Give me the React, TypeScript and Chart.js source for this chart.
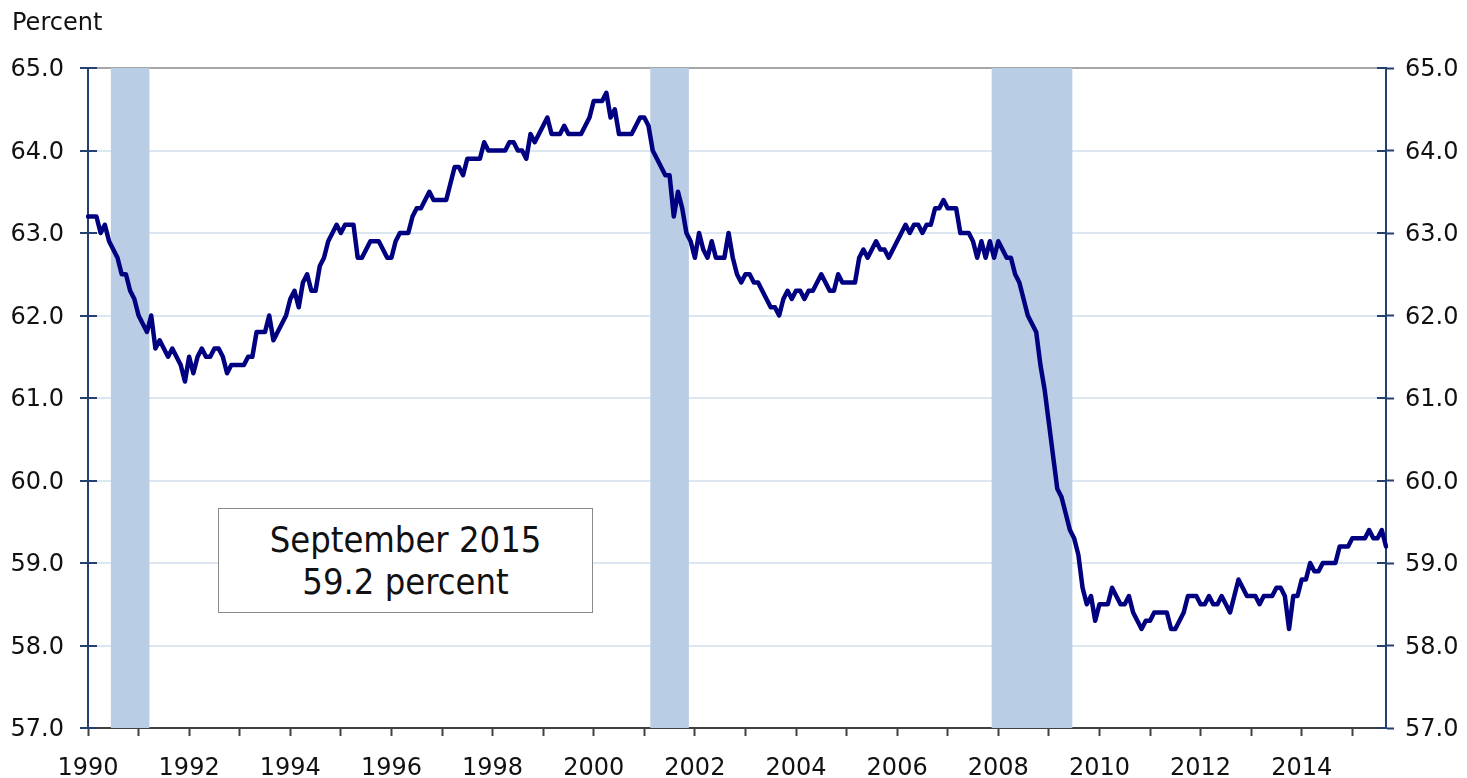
import React, { useEffect, useRef } from "react";
import { Chart, registerables } from "chart.js";

Chart.register(...registerables);

// ---- Data ---------------------------------------------------------------
const firstYear = 1990;

// Employment-population ratio, seasonally adjusted, monthly Jan 1990 – Sep 2015
const employmentRatio: number[] = [
  63.2, 63.2, 63.2, 63.0, 63.1, 62.9, 62.8, 62.7, 62.5, 62.5, 62.3, 62.2, // 1990
  62.0, 61.9, 61.8, 62.0, 61.6, 61.7, 61.6, 61.5, 61.6, 61.5, 61.4, 61.2, // 1991
  61.5, 61.3, 61.5, 61.6, 61.5, 61.5, 61.6, 61.6, 61.5, 61.3, 61.4, 61.4, // 1992
  61.4, 61.4, 61.5, 61.5, 61.8, 61.8, 61.8, 62.0, 61.7, 61.8, 61.9, 62.0, // 1993
  62.2, 62.3, 62.1, 62.4, 62.5, 62.3, 62.3, 62.6, 62.7, 62.9, 63.0, 63.1, // 1994
  63.0, 63.1, 63.1, 63.1, 62.7, 62.7, 62.8, 62.9, 62.9, 62.9, 62.8, 62.7, // 1995
  62.7, 62.9, 63.0, 63.0, 63.0, 63.2, 63.3, 63.3, 63.4, 63.5, 63.4, 63.4, // 1996
  63.4, 63.4, 63.6, 63.8, 63.8, 63.7, 63.9, 63.9, 63.9, 63.9, 64.1, 64.0, // 1997
  64.0, 64.0, 64.0, 64.0, 64.1, 64.1, 64.0, 64.0, 63.9, 64.2, 64.1, 64.2, // 1998
  64.3, 64.4, 64.2, 64.2, 64.2, 64.3, 64.2, 64.2, 64.2, 64.2, 64.3, 64.4, // 1999
  64.6, 64.6, 64.6, 64.7, 64.4, 64.5, 64.2, 64.2, 64.2, 64.2, 64.3, 64.4, // 2000
  64.4, 64.3, 64.0, 63.9, 63.8, 63.7, 63.7, 63.2, 63.5, 63.3, 63.0, 62.9, // 2001
  62.7, 63.0, 62.8, 62.7, 62.9, 62.7, 62.7, 62.7, 63.0, 62.7, 62.5, 62.4, // 2002
  62.5, 62.5, 62.4, 62.4, 62.3, 62.2, 62.1, 62.1, 62.0, 62.2, 62.3, 62.2, // 2003
  62.3, 62.3, 62.2, 62.3, 62.3, 62.4, 62.5, 62.4, 62.3, 62.3, 62.5, 62.4, // 2004
  62.4, 62.4, 62.4, 62.7, 62.8, 62.7, 62.8, 62.9, 62.8, 62.8, 62.7, 62.8, // 2005
  62.9, 63.0, 63.1, 63.0, 63.1, 63.1, 63.0, 63.1, 63.1, 63.3, 63.3, 63.4, // 2006
  63.3, 63.3, 63.3, 63.0, 63.0, 63.0, 62.9, 62.7, 62.9, 62.7, 62.9, 62.7, // 2007
  62.9, 62.8, 62.7, 62.7, 62.5, 62.4, 62.2, 62.0, 61.9, 61.8, 61.4, 61.1, // 2008
  60.7, 60.3, 59.9, 59.8, 59.6, 59.4, 59.3, 59.1, 58.7, 58.5, 58.6, 58.3, // 2009
  58.5, 58.5, 58.5, 58.7, 58.6, 58.5, 58.5, 58.6, 58.4, 58.3, 58.2, 58.3, // 2010
  58.3, 58.4, 58.4, 58.4, 58.4, 58.2, 58.2, 58.3, 58.4, 58.6, 58.6, 58.6, // 2011
  58.5, 58.5, 58.6, 58.5, 58.5, 58.6, 58.5, 58.4, 58.6, 58.8, 58.7, 58.6, // 2012
  58.6, 58.6, 58.5, 58.6, 58.6, 58.6, 58.7, 58.7, 58.6, 58.2, 58.6, 58.6, // 2013
  58.8, 58.8, 59.0, 58.9, 58.9, 59.0, 59.0, 59.0, 59.0, 59.2, 59.2, 59.2, // 2014
  59.3, 59.3, 59.3, 59.3, 59.4, 59.3, 59.3, 59.4, 59.2,                   // 2015
];

// Recession periods (first month, last month)
const recessions: [string, string][] = [
  ["1990-07", "1991-03"],
  ["2001-03", "2001-11"],
  ["2007-12", "2009-06"],
];

const yMin = 57;
const yMax = 65;
const yStep = 1;
const yAxisTitle = "Percent";
const noteLines = ["September 2015", "59.2 percent"];

// ---- Derived tables -----------------------------------------------------
const monthLabels = employmentRatio.map(
  (_, i) => `${firstYear + Math.floor(i / 12)}-${String((i % 12) + 1).padStart(2, "0")}`
);
const recessionShade = monthLabels.map((m) =>
  recessions.some(([a, b]) => m >= a && m <= b) ? yMax : null
);

// ---- Styles -------------------------------------------------------------
const FONT = '"DejaVu Sans", Verdana, sans-serif';
const AXIS_BLUE = "#24406f";
const TEXT = "#111111";
const FS = 24;

const innerTicks = {
  id: "innerTicks",
  afterDatasetsDraw(chart: any) {
    const { ctx, chartArea } = chart;
    ctx.save();
    ctx.strokeStyle = AXIS_BLUE;
    ctx.lineWidth = 2;
    for (const id of ["y", "y2"]) {
      const s = chart.scales[id];
      const x0 = id === "y" ? chartArea.left : chartArea.right;
      const dir = id === "y" ? 1 : -1;
      s.ticks.forEach((t: any) => {
        const py = Math.round(s.getPixelForValue(t.value));
        ctx.beginPath();
        ctx.moveTo(x0, py);
        ctx.lineTo(x0 + dir * 9, py);
        ctx.stroke();
      });
    }
    ctx.restore();
  },
};

export default function App() {
  const ref = useRef<HTMLCanvasElement>(null);

  useEffect(() => {
    const chart = new Chart(ref.current as HTMLCanvasElement, {
      type: "line",
      data: {
        labels: monthLabels,
        datasets: [
          {
            type: "line",
            label: "Employment-population ratio",
            data: employmentRatio,
            borderColor: "#000080",
            borderWidth: 4.5,
            pointRadius: 0,
            tension: 0,
            borderJoinStyle: "round",
            borderCapStyle: "round",
            order: 1,
            yAxisID: "y",
          } as any,
          {
            type: "bar",
            label: "Recession",
            data: recessionShade,
            backgroundColor: "#b9cde5",
            borderWidth: 0,
            barPercentage: 1,
            categoryPercentage: 1,
            order: 2,
            yAxisID: "y",
          } as any,
        ],
      },
      options: {
        responsive: true,
        maintainAspectRatio: false,
        animation: false,
        layout: { padding: { left: 12, right: 0, top: 0, bottom: 0 } },
        plugins: {
          legend: { display: false },
          tooltip: { enabled: false },
          title: {
            display: true,
            text: yAxisTitle,
            align: "start",
            color: TEXT,
            font: { family: FONT, size: FS, weight: "normal" },
            padding: { top: 9, bottom: 30.2 },
          },
        },
        scales: {
          x: {
            type: "category",
            offset: false,
            afterBuildTicks: (axis: any) => {
              axis.ticks = axis.ticks.filter((t: any) => monthLabels[t.value].endsWith("-01"));
            },
            afterFit: (axis: any) => {
              axis.height = 50;
            },
            ticks: {
              autoSkip: false,
              maxRotation: 0,
              minRotation: 0,
              padding: 18,
              color: TEXT,
              font: { family: FONT, size: FS },
              callback: (value: any) => {
                const year = Number(monthLabels[value].slice(0, 4));
                return (year - firstYear) % 2 === 0 ? String(year) : "";
              },
            },
            grid: {
              display: true,
              offset: false,
              drawOnChartArea: false,
              drawTicks: true,
              tickLength: 8,
              tickColor: "#404040",
              tickWidth: 2,
            },
            border: { display: true, color: "#404040", width: 2 },
          },
          y: {
            type: "linear",
            position: "left",
            min: yMin,
            max: yMax,
            afterFit: (axis: any) => {
              axis.width = 76;
            },
            ticks: {
              stepSize: yStep,
              padding: 16,
              labelOffset: 2,
              color: TEXT,
              font: { family: FONT, size: FS },
              callback: (v: any) => Number(v).toFixed(1),
            },
            grid: {
              color: (c: any) => (c.tick && c.tick.value === yMax ? "#a6a6a6" : "#dde7f2"),
              lineWidth: 2,
              tickLength: 8,
              tickColor: AXIS_BLUE,
              tickWidth: 2,
            },
            border: { display: true, color: AXIS_BLUE, width: 2 },
          },
          y2: {
            type: "linear",
            position: "right",
            min: yMin,
            max: yMax,
            afterFit: (axis: any) => {
              axis.width = 81;
            },
            ticks: {
              stepSize: yStep,
              padding: 11,
              labelOffset: 2,
              color: TEXT,
              font: { family: FONT, size: FS },
              callback: (v: any) => Number(v).toFixed(1),
            },
            grid: {
              drawOnChartArea: false,
              tickLength: 8,
              tickColor: AXIS_BLUE,
              tickWidth: 2,
            },
            border: { display: true, color: AXIS_BLUE, width: 2 },
          },
        },
      } as any,
      plugins: [innerTicks],
    });
    return () => chart.destroy();
  }, []);

  return (
    <div
      style={{
        position: "absolute",
        left: 0,
        top: 0,
        width: 1467,
        height: 778,
        background: "#ffffff",
      }}
    >
      <canvas ref={ref} />
      <div
        style={{
          position: "absolute",
          left: 218,
          top: 508,
          width: 375,
          height: 105,
          boxSizing: "border-box",
          border: "1px solid #8a8a8a",
          background: "#ffffff",
          display: "flex",
          flexDirection: "column",
          justifyContent: "center",
          alignItems: "center",
          fontFamily: '"DejaVu Sans Condensed", "DejaVu Sans", sans-serif',
          fontSize: 36,
          lineHeight: "42px",
          color: TEXT,
        }}
      >
        {noteLines.map((l) => (
          <div key={l}>{l}</div>
        ))}
      </div>
    </div>
  );
}
